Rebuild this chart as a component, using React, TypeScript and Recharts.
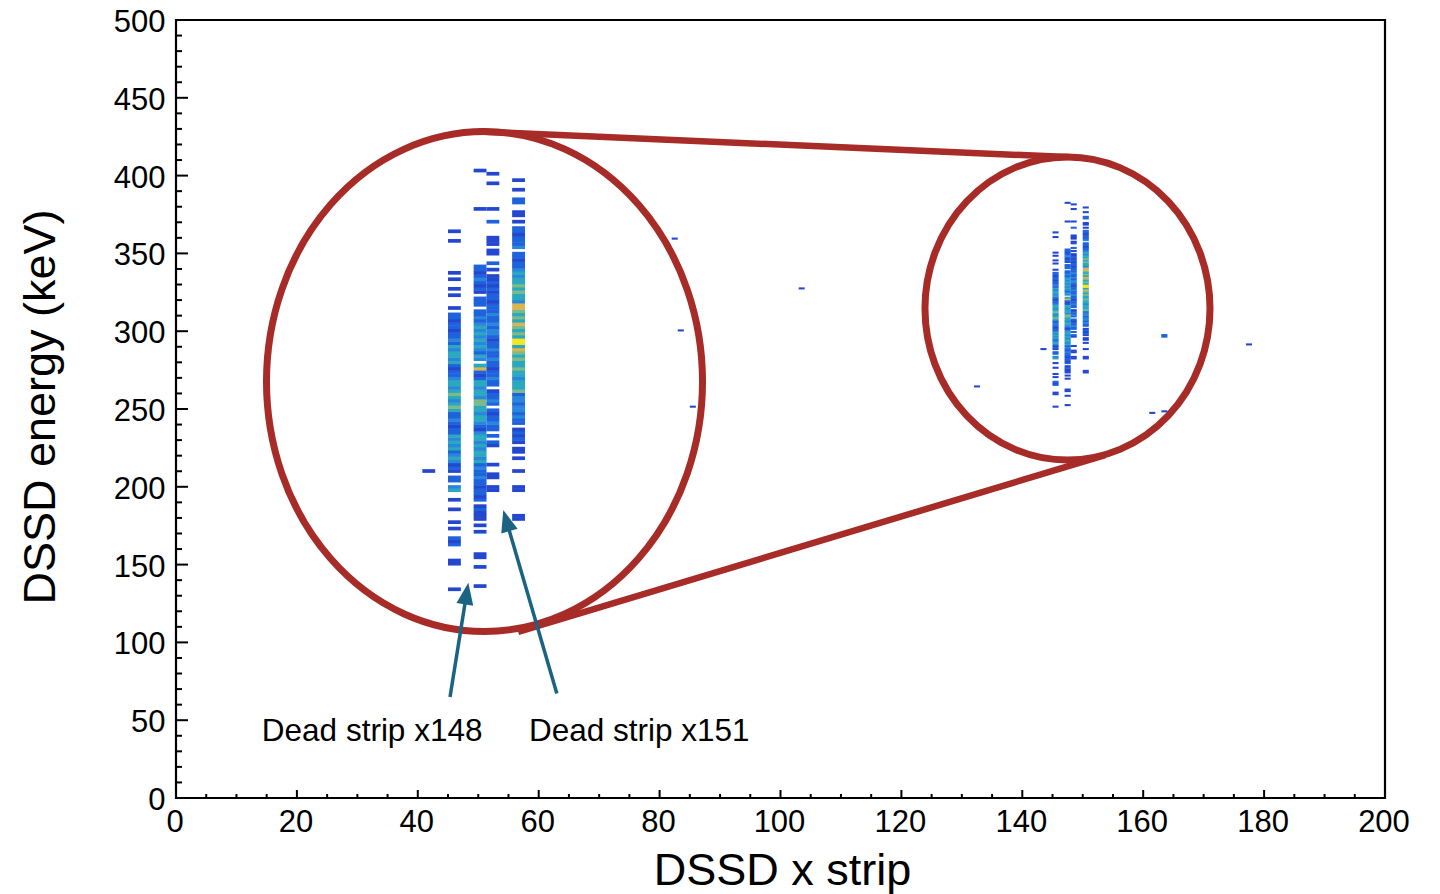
import React from 'react';
import {
  ScatterChart,
  Scatter,
  XAxis,
  YAxis,
  ReferenceArea,
  ReferenceLine,
  ReferenceDot,
} from 'recharts';

// layout
const CHART_W = 1440;
const CHART_H = 894;
const MARGIN = { top: 20, right: 55, bottom: 0, left: 0 };
const Y_AXIS_W = 176;
const X_AXIS_H = 96;
const PLOT_W = CHART_W - MARGIN.left - MARGIN.right - Y_AXIS_W;
const PLOT_H = CHART_H - MARGIN.top - MARGIN.bottom - X_AXIS_H;

const X_DOMAIN: [number, number] = [0, 200];
const Y_DOMAIN: [number, number] = [0, 500];
// magnified view (big circle) uses its own hidden axes
const ZOOM_X: [number, number] = [123.8, 218.03];
const ZOOM_Y: [number, number] = [186.2, 429.6];

const FONT = '"Liberation Sans", Arial, Helvetica, sans-serif';
const RING = '#a72b27';
const ARROW = '#1b6383';
const PALETTE = ['#ffffff', '#2347cf', '#1f63dc', '#2a86dc', '#2aa8c0', '#7cba86', '#d8b550', '#f6e41c'];

const xTickLabels = [0, 20, 40, 60, 80, 100, 120, 140, 160, 180, 200];
const yTickLabels = [0, 50, 100, 150, 200, 250, 300, 350, 400, 450, 500];
const xTicks = Array.from({ length: 41 }, (_, i) => i * 5);
const yTicks = Array.from({ length: 51 }, (_, i) => i * 10);

// hit counts (colour level) per 1 keV bin, starting at 250 keV
const ENERGY_START = 250;
const stripX = [145, 147, 148, 150];

const counts145 = [
  0, 1, 0, 0, 0, 0, 0, 0, 0, 1,
  1, 0, 0, 0, 0, 2, 1, 2, 0, 0,
  1, 0, 1, 0, 0, 0, 1, 0, 0, 1,
  0, 0, 4, 3, 0, 2, 2, 0, 1, 2,
  1, 3, 4, 3, 2, 4, 3, 4, 3, 4,
  2, 2, 1, 2, 3, 2, 2, 4, 5, 4,
  3, 4, 5, 4, 3, 4, 4, 3, 2, 2,
  1, 2, 4, 3, 4, 4, 3, 4, 2, 3,
  2, 2, 1, 2, 2, 1, 2, 2, 0, 1,
  0, 0, 0, 1, 0, 1, 0, 0, 1, 0,
  1, 0, 0, 0, 0, 0, 0, 0, 0, 0,
  1, 0, 0, 1, 0, 0, 0, 0, 0, 0,
];

const counts147 = [
  0, 0, 1, 0, 0, 0, 0, 0, 1, 0,
  0, 1, 1, 0, 0, 0, 0, 0, 0, 1,
  0, 1, 0, 1, 1, 1, 2, 1, 0, 2,
  1, 2, 2, 1, 2, 2, 3, 2, 2, 3,
  2, 4, 3, 4, 4, 3, 4, 3, 4, 4,
  3, 1, 2, 3, 4, 4, 3, 4, 4, 5,
  5, 3, 4, 4, 3, 4, 4, 2, 1, 2,
  6, 4, 0, 3, 4, 2, 3, 4, 3, 4,
  3, 4, 3, 4, 3, 2, 3, 2, 2, 0,
  2, 2, 2, 0, 1, 2, 1, 2, 3, 2,
  1, 2, 2, 0, 0, 0, 0, 0, 0, 0,
  0, 0, 0, 0, 0, 0, 0, 0, 0, 0,
  1, 0, 0, 0, 0, 0, 0, 0, 0, 0,
  0, 0, 1,
];

const counts148 = [
  0, 0, 0, 0, 0, 0, 0, 0, 0, 0,
  0, 0, 0, 0, 0, 0, 0, 0, 0, 0,
  0, 0, 0, 0, 0, 0, 0, 0, 0, 0,
  0, 0, 1, 1, 0, 0, 1, 1, 0, 0,
  1, 0, 0, 0, 0, 0, 1, 2, 0, 2,
  0, 2, 2, 3, 2, 2, 1, 2, 0, 2,
  3, 2, 2, 1, 0, 2, 2, 3, 2, 2,
  1, 2, 2, 3, 2, 2, 3, 2, 2, 1,
  2, 3, 3, 2, 3, 2, 2, 3, 2, 2,
  2, 1, 2, 2, 1, 2, 1, 2, 1, 1,
  0, 1, 0, 2, 0, 0, 1, 1, 0, 1,
  1, 1, 0, 0, 0, 0, 2, 0, 0, 0,
  1, 0, 0, 0, 0, 0, 0, 0, 1, 0,
  0, 1,
];

const counts150 = [
  0, 0, 0, 0, 0, 0, 0, 0, 0, 0,
  0, 0, 0, 0, 0, 0, 0, 0, 0, 0,
  0, 0, 0, 1, 1, 0, 0, 0, 0, 0,
  0, 0, 1, 1, 0, 0, 0, 0, 1, 0,
  0, 0, 1, 0, 1, 1, 0, 1, 2, 1,
  2, 1, 0, 2, 2, 3, 2, 3, 3, 2,
  3, 3, 2, 5, 4, 4, 4, 3, 4, 4,
  5, 4, 4, 5, 4, 5, 6, 4, 7, 7,
  4, 5, 4, 5, 6, 4, 5, 4, 5, 6,
  6, 3, 4, 4, 5, 4, 5, 4, 4, 3,
  4, 3, 2, 2, 1, 2, 2, 0, 3, 2,
  2, 2, 1, 2, 2, 0, 1, 0, 1, 1,
  0, 0, 2, 2, 0, 0, 1, 0, 0, 1,
];

// isolated hits
const noiseX = [82, 83, 85, 103, 132, 143, 161, 163, 163, 163, 177];
const noiseY = [359, 300, 251, 327, 264, 288, 247, 248, 296, 297, 291];
const noiseLevel = [1, 1, 1, 1, 1, 1, 1, 1, 2, 2, 1];

// annotation geometry in data units
const bigRing = { x1: 14.97, x2: 87.1, y1: 107.0, y2: 428.3 };
const smallRing = { x1: 123.9, x2: 171.05, y1: 217.2, y2: 411.95 };
const topLink = [{ x: 49.96, y: 428.3 }, { x: 147.6, y: 411.9 }];
const bottomLink = [{ x: 56.6, y: 106.7 }, { x: 153.7, y: 220.4 }];
const arrow148 = [{ x: 45.33, y: 64.9 }, { x: 48.36, y: 138.4 }];
const arrow151 = [{ x: 63.0, y: 67.2 }, { x: 54.14, y: 185.1 }];
const deadStripLabels = ['Dead strip x148', 'Dead strip x151'];
const labelX = [14.2, 58.4];
const labelY = 36.8;

type Cell = { x: number; y: number; level: number };

const cells: Cell[] = [];
[counts145, counts147, counts148, counts150].forEach((col, c) => {
  col.forEach((level, i) => {
    if (level > 0) cells.push({ x: stripX[c] + 0.5, y: ENERGY_START + i + 0.5, level });
  });
});
noiseX.forEach((x, i) => cells.push({ x: x + 0.5, y: noiseY[i] + 0.5, level: noiseLevel[i] }));
const insetCells = cells.filter((d) => d.x > 140 && d.x < 156);

const makeCell = (w: number, h: number) => (props: any) => {
  const { cx, cy, payload } = props;
  if (cx == null || cy == null) return <g />;
  return (
    <rect
      x={cx - w / 2}
      y={cy - h / 2 - 0.25}
      width={w}
      height={h + 0.5}
      fill={PALETTE[payload.level]}
    />
  );
};

const mainCell = makeCell(PLOT_W / (X_DOMAIN[1] - X_DOMAIN[0]), PLOT_H / (Y_DOMAIN[1] - Y_DOMAIN[0]));
const zoomCell = makeCell(PLOT_W / (ZOOM_X[1] - ZOOM_X[0]), PLOT_H / (ZOOM_Y[1] - ZOOM_Y[0]));

const YTick = (props: any) => {
  const { x, y, payload } = props;
  const major = yTickLabels.includes(payload.value);
  return (
    <g>
      <line x1={x} y1={y} x2={x + (major ? 12 : 6)} y2={y} stroke="#000" strokeWidth={2} />
      {major && (
        <text x={x - 10.5} y={y + 12} textAnchor="end" fontSize={31} fontFamily={FONT} fill="#000">
          {payload.value}
        </text>
      )}
    </g>
  );
};

const XTick = (props: any) => {
  const { x, y, payload } = props;
  const major = xTickLabels.includes(payload.value);
  return (
    <g>
      <line x1={x} y1={y} x2={x} y2={y - (major ? 8 : 4)} stroke="#000" strokeWidth={2} />
      {major && (
        <text x={x - 1} y={y + 34} textAnchor="middle" fontSize={31} fontFamily={FONT} fill="#000">
          {payload.value}
        </text>
      )}
    </g>
  );
};

const xTitle = (props: any) => {
  const vb = props.viewBox || { x: Y_AXIS_W, y: MARGIN.top + PLOT_H, width: PLOT_W, height: X_AXIS_H };
  return (
    <text x={vb.x + vb.width / 2 + 2} y={885} textAnchor="middle" fontSize={45} fontFamily={FONT} fill="#000">
      DSSD x strip
    </text>
  );
};

const yTitle = (props: any) => {
  const vb = props.viewBox || { x: 0, y: MARGIN.top, width: Y_AXIS_W, height: PLOT_H };
  const cy = vb.y + vb.height / 2 - 2;
  return (
    <text
      transform={`translate(55, ${cy}) rotate(-90)`}
      textAnchor="middle"
      fontSize={45}
      fontFamily={FONT}
      fill="#000"
    >
      DSSD energy (keV)
    </text>
  );
};

const ringShape = (props: any) => {
  const { x, y, width, height } = props;
  return (
    <ellipse
      cx={x + width / 2}
      cy={y + height / 2}
      rx={Math.abs(width) / 2}
      ry={Math.abs(height) / 2}
      fill="none"
      stroke={RING}
      strokeWidth={7}
    />
  );
};

const arrowShape = (props: any) => {
  const { x1, y1, x2, y2 } = props;
  const dx = x2 - x1;
  const dy = y2 - y1;
  const len = Math.hypot(dx, dy) || 1;
  const ux = dx / len;
  const uy = dy / len;
  const headL = 22;
  const headW = 8.5;
  const bx = x2 - ux * headL;
  const by = y2 - uy * headL;
  return (
    <g>
      <line x1={x1} y1={y1} x2={bx + ux * 2} y2={by + uy * 2} stroke={ARROW} strokeWidth={3.5} />
      <polygon
        points={`${x2},${y2} ${bx - uy * headW},${by + ux * headW} ${bx + uy * headW},${by - ux * headW}`}
        fill={ARROW}
      />
    </g>
  );
};

const textShape = (text: string) => (props: any) => (
  <text x={props.cx} y={props.cy} fontSize={31.5} fontFamily={FONT} fill="#000">
    {text}
  </text>
);

const App: React.FC = () => {
  return (
    <div style={{ position: 'absolute', left: 0, top: 0, width: CHART_W, height: CHART_H, background: '#fff' }}>
      <ScatterChart width={CHART_W} height={CHART_H} margin={MARGIN}>
        <XAxis
          type="number"
          dataKey="x"
          domain={X_DOMAIN}
          ticks={xTicks}
          interval={0}
          height={X_AXIS_H}
          axisLine={false}
          tickLine={false}
          tickSize={0}
          tickMargin={0}
          tick={<XTick />}
          label={xTitle}
        />
        <YAxis
          type="number"
          dataKey="y"
          domain={Y_DOMAIN}
          ticks={yTicks}
          interval={0}
          width={Y_AXIS_W}
          axisLine={false}
          tickLine={false}
          tickSize={0}
          tickMargin={0}
          tick={<YTick />}
          label={yTitle}
        />
        <XAxis xAxisId="zoom" type="number" dataKey="x" domain={ZOOM_X} hide allowDataOverflow />
        <YAxis yAxisId="zoom" type="number" dataKey="y" domain={ZOOM_Y} hide allowDataOverflow />

        <Scatter data={cells} shape={mainCell} isAnimationActive={false} />
        <Scatter data={insetCells} xAxisId="zoom" yAxisId="zoom" shape={zoomCell} isAnimationActive={false} />

        <ReferenceArea
          x1={X_DOMAIN[0]}
          x2={X_DOMAIN[1]}
          y1={Y_DOMAIN[0]}
          y2={Y_DOMAIN[1]}
          fill="none"
          fillOpacity={0}
          stroke="#000"
          strokeWidth={2.2}
          ifOverflow="visible"
        />

        <ReferenceLine segment={topLink} stroke={RING} strokeWidth={6.5} />
        <ReferenceLine segment={bottomLink} stroke={RING} strokeWidth={6.5} />
        <ReferenceArea {...bigRing} shape={ringShape} ifOverflow="visible" />
        <ReferenceArea {...smallRing} shape={ringShape} ifOverflow="visible" />

        <ReferenceLine segment={arrow148} shape={arrowShape} />
        <ReferenceLine segment={arrow151} shape={arrowShape} />
        {deadStripLabels.map((t, i) => (
          <ReferenceDot key={t} x={labelX[i]} y={labelY} r={0} shape={textShape(t)} />
        ))}
      </ScatterChart>
    </div>
  );
};

export default App;
